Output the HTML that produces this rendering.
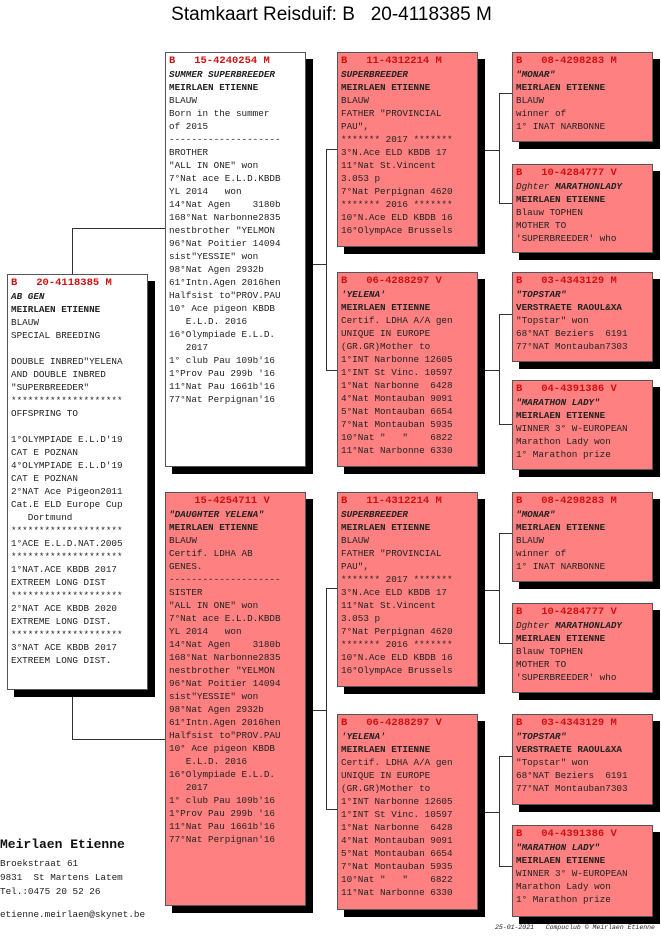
<!DOCTYPE html>
<html><head><meta charset="utf-8">
<style>
body{margin:0;width:661px;height:950px;background:#fff;position:relative;overflow:hidden}
.t{position:absolute;left:0;top:4px;width:663px;text-align:center;font:19px "Liberation Sans",sans-serif;color:#000;white-space:pre}
.b{position:absolute;border:1px solid #555;box-shadow:7px 7px 0 #000;background:#fff;font:9.3px/13px "Liberation Mono",monospace;color:#222;white-space:pre;padding:1px 0 0 3px;box-sizing:border-box;overflow:hidden}
.p{background:#ff8080}
.h{color:#d01010;font-weight:bold;font-size:10.5px}
i{font-style:italic}
.n{font-weight:bold}
.ln{position:absolute;background:#333}
.ft{position:absolute;font-family:"Liberation Mono",monospace;color:#222;white-space:pre}
</style></head><body>
<div class="t">Stamkaart Reisduif: B   20-4118385 M</div>

<div class="ln" style="left:72px;top:228px;width:1px;height:46px"></div>
<div class="ln" style="left:72px;top:228px;width:93px;height:1px"></div>
<div class="ln" style="left:72px;top:690px;width:1px;height:50px"></div>
<div class="ln" style="left:72px;top:739px;width:93px;height:1px"></div>

<div class="ln" style="left:326px;top:149px;width:1px;height:221px"></div>
<div class="ln" style="left:326px;top:149px;width:11px;height:1px"></div>
<div class="ln" style="left:326px;top:370px;width:11px;height:1px"></div>
<div class="ln" style="left:312px;top:264px;width:14px;height:1px"></div>

<div class="ln" style="left:326px;top:588px;width:1px;height:221px"></div>
<div class="ln" style="left:326px;top:588px;width:11px;height:1px"></div>
<div class="ln" style="left:326px;top:809px;width:11px;height:1px"></div>
<div class="ln" style="left:312px;top:710px;width:14px;height:1px"></div>

<div class="ln" style="left:499px;top:93px;width:1px;height:110px"></div>
<div class="ln" style="left:499px;top:93px;width:13px;height:1px"></div>
<div class="ln" style="left:499px;top:203px;width:13px;height:1px"></div>
<div class="ln" style="left:485px;top:150px;width:14px;height:1px"></div>

<div class="ln" style="left:499px;top:314px;width:1px;height:110px"></div>
<div class="ln" style="left:499px;top:314px;width:13px;height:1px"></div>
<div class="ln" style="left:499px;top:424px;width:13px;height:1px"></div>
<div class="ln" style="left:485px;top:370px;width:14px;height:1px"></div>

<div class="ln" style="left:499px;top:533px;width:1px;height:110px"></div>
<div class="ln" style="left:499px;top:533px;width:13px;height:1px"></div>
<div class="ln" style="left:499px;top:643px;width:13px;height:1px"></div>
<div class="ln" style="left:485px;top:590px;width:14px;height:1px"></div>

<div class="ln" style="left:499px;top:756px;width:1px;height:110px"></div>
<div class="ln" style="left:499px;top:756px;width:13px;height:1px"></div>
<div class="ln" style="left:499px;top:866px;width:13px;height:1px"></div>
<div class="ln" style="left:485px;top:812px;width:14px;height:1px"></div>

<div class="b" style="left:7px;top:274px;width:141px;height:416px"><span class="h">B   20-4118385 M</span>
<i class="n">AB GEN</i>
<span class="n">MEIRLAEN ETIENNE</span>
BLAUW
SPECIAL BREEDING

DOUBLE INBRED"YELENA
AND DOUBLE INBRED
"SUPERBREEDER"
********************
OFFSPRING TO

1°OLYMPIADE E.L.D'19
CAT E POZNAN
4°OLYMPIADE E.L.D'19
CAT E POZNAN
2°NAT Ace Pigeon2011
Cat.E ELD Europe Cup
   Dortmund
********************
1°ACE E.L.D.NAT.2005
********************
1°NAT.ACE KBDB 2017
EXTREEM LONG DIST
********************
2°NAT ACE KBDB 2020
EXTREME LONG DIST.
********************
3°NAT ACE KBDB 2017
EXTREEM LONG DIST.</div>

<div class="b" style="left:165px;top:52px;width:141px;height:415px"><span class="h">B   15-4240254 M</span>
<i class="n">SUMMER SUPERBREEDER</i>
<span class="n">MEIRLAEN ETIENNE</span>
BLAUW
Born in the summer
of 2015
--------------------
BROTHER
"ALL IN ONE" won
7°Nat ace E.L.D.KBDB
YL 2014   won
14°Nat Agen    3180b
168°Nat Narbonne2835
nestbrother "YELMON
96°Nat Poitier 14094
sist"YESSIE" won
98°Nat Agen 2932b
61°Intn.Agen 2016hen
Halfsist to"PROV.PAU
10° Ace pigeon KBDB
   E.L.D. 2016
16°Olympiade E.L.D.
   2017
1° club Pau 109b'16
1°Prov Pau 299b '16
11°Nat Pau 1661b'16
77°Nat Perpignan'16</div>

<div class="b p" style="left:165px;top:492px;width:141px;height:414px"><span class="h">    15-4254711 V</span>
<i class="n">"DAUGHTER YELENA"</i>
<span class="n">MEIRLAEN ETIENNE</span>
BLAUW
Certif. LDHA AB
GENES.
--------------------
SISTER
"ALL IN ONE" won
7°Nat ace E.L.D.KBDB
YL 2014   won
14°Nat Agen    3180b
168°Nat Narbonne2835
nestbrother "YELMON
96°Nat Poitier 14094
sist"YESSIE" won
98°Nat Agen 2932b
61°Intn.Agen 2016hen
Halfsist to"PROV.PAU
10° Ace pigeon KBDB
   E.L.D. 2016
16°Olympiade E.L.D.
   2017
1° club Pau 109b'16
1°Prov Pau 299b '16
11°Nat Pau 1661b'16
77°Nat Perpignan'16</div>

<div class="b p" style="left:337px;top:52px;width:141px;height:195px"><span class="h">B   11-4312214 M</span>
<i class="n">SUPERBREEDER</i>
<span class="n">MEIRLAEN ETIENNE</span>
BLAUW
FATHER "PROVINCIAL
PAU",
******* 2017 *******
3°N.Ace ELD KBDB 17
11°Nat St.Vincent
3.053 p
7°Nat Perpignan 4620
******* 2016 *******
10°N.Ace ELD KBDB 16
16°OlympAce Brussels</div>

<div class="b p" style="left:337px;top:272px;width:141px;height:195px"><span class="h">B   06-4288297 V</span>
<i class="n">'YELENA'</i>
<span class="n">MEIRLAEN ETIENNE</span>
Certif. LDHA A/A gen
UNIQUE IN EUROPE
(GR.GR)Mother to
1°INT Narbonne 12605
1°INT St Vinc. 10597
1°Nat Narbonne  6428
4°Nat Montauban 9091
5°Nat Montauban 6654
7°Nat Montauban 5935
10°Nat "   "    6822
11°Nat Narbonne 6330</div>

<div class="b p" style="left:337px;top:492px;width:141px;height:195px"><span class="h">B   11-4312214 M</span>
<i class="n">SUPERBREEDER</i>
<span class="n">MEIRLAEN ETIENNE</span>
BLAUW
FATHER "PROVINCIAL
PAU",
******* 2017 *******
3°N.Ace ELD KBDB 17
11°Nat St.Vincent
3.053 p
7°Nat Perpignan 4620
******* 2016 *******
10°N.Ace ELD KBDB 16
16°OlympAce Brussels</div>

<div class="b p" style="left:337px;top:714px;width:141px;height:196px"><span class="h">B   06-4288297 V</span>
<i class="n">'YELENA'</i>
<span class="n">MEIRLAEN ETIENNE</span>
Certif. LDHA A/A gen
UNIQUE IN EUROPE
(GR.GR)Mother to
1°INT Narbonne 12605
1°INT St Vinc. 10597
1°Nat Narbonne  6428
4°Nat Montauban 9091
5°Nat Montauban 6654
7°Nat Montauban 5935
10°Nat "   "    6822
11°Nat Narbonne 6330</div>

<div class="b p" style="left:512px;top:52px;width:141px;height:90px"><span class="h">B   08-4298283 M</span>
<i class="n">"MONAR"</i>
<span class="n">MEIRLAEN ETIENNE</span>
BLAUW
winner of
1° INAT NARBONNE</div>
<div class="b p" style="left:512px;top:164px;width:141px;height:89px"><span class="h">B   10-4284777 V</span>
<i>Dghter <b>MARATHONLADY</b></i>
<span class="n">MEIRLAEN ETIENNE</span>
Blauw TOPHEN
MOTHER TO
'SUPERBREEDER' who</div>
<div class="b p" style="left:512px;top:272px;width:141px;height:90px"><span class="h">B   03-4343129 M</span>
<i class="n">"TOPSTAR"</i>
<span class="n">VERSTRAETE RAOUL&amp;XA</span>
"Topstar" won
68°NAT Beziers  6191
77°NAT Montauban7303</div>
<div class="b p" style="left:512px;top:380px;width:141px;height:90px"><span class="h">B   04-4391386 V</span>
<i class="n">"MARATHON LADY"</i>
<span class="n">MEIRLAEN ETIENNE</span>
WINNER 3° W-EUROPEAN
Marathon Lady won
1° Marathon prize</div>

<div class="b p" style="left:512px;top:492px;width:141px;height:90px"><span class="h">B   08-4298283 M</span>
<i class="n">"MONAR"</i>
<span class="n">MEIRLAEN ETIENNE</span>
BLAUW
winner of
1° INAT NARBONNE</div>
<div class="b p" style="left:512px;top:603px;width:141px;height:90px"><span class="h">B   10-4284777 V</span>
<i>Dghter <b>MARATHONLADY</b></i>
<span class="n">MEIRLAEN ETIENNE</span>
Blauw TOPHEN
MOTHER TO
'SUPERBREEDER' who</div>
<div class="b p" style="left:512px;top:714px;width:141px;height:91px"><span class="h">B   03-4343129 M</span>
<i class="n">"TOPSTAR"</i>
<span class="n">VERSTRAETE RAOUL&amp;XA</span>
"Topstar" won
68°NAT Beziers  6191
77°NAT Montauban7303</div>
<div class="b p" style="left:512px;top:825px;width:141px;height:92px"><span class="h">B   04-4391386 V</span>
<i class="n">"MARATHON LADY"</i>
<span class="n">MEIRLAEN ETIENNE</span>
WINNER 3° W-EUROPEAN
Marathon Lady won
1° Marathon prize</div>

<div class="ft" style="left:0;top:837px;font-size:13px;font-weight:bold;color:#111">Meirlaen Etienne</div>
<div class="ft" style="left:0;top:857px;font-size:9.3px;line-height:14px">Broekstraat 61
9831  St Martens Latem
Tel.:0475 20 52 26</div>
<div class="ft" style="left:0;top:909px;font-size:9.3px">etienne.meirlaen@skynet.be</div>
<div class="ft" style="left:495px;top:924px;font-size:6.5px;font-style:italic">25-01-2021   Compuclub © Meirlaen Etienne</div>
</body></html>
